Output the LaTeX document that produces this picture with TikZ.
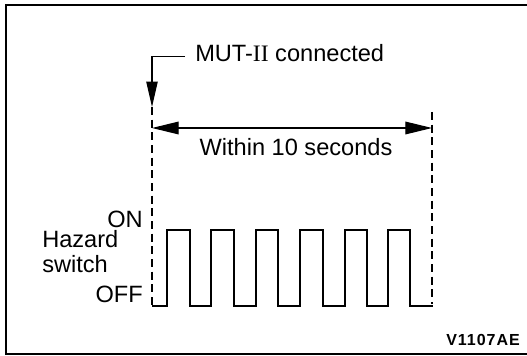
\documentclass[tikz,border=0pt]{standalone}
\usepackage{fontspec}
\setmainfont{Liberation Sans}
\newfontfamily\romfont{Liberation Serif}
\newfontfamily\codefont[LetterSpace=6]{Liberation Sans}
\usetikzlibrary{arrows.meta}
\begin{document}
\begin{tikzpicture}[x=0.75pt,y=-0.75pt,
  lbl/.style={inner sep=0pt,font=\fontsize{17.7}{19}\selectfont},
  frameline/.style={line width=1.8pt},
  guide/.style={line width=0.9pt,dash pattern=on 6pt off 3.5pt},
  leader/.style={line width=0.8pt,-{Triangle[length=19pt,width=8.5pt]}},
  span/.style={line width=0.9pt,{Triangle[length=20pt,width=9.5pt]}-{Triangle[length=20pt,width=9.5pt]}},
  wave/.style={line width=1.5pt,line join=miter}]
\useasboundingbox (0,0) rectangle (527,356);
\draw[frameline] (530,5) -- (6,5) -- (6,354) -- (530,354);
% text
\node[lbl,anchor=base west] (mut) at (195,62) {MUT-{\romfont II} connected};
\node[lbl,anchor=base] (within) at (296,155) {Within 10 seconds};
\node[lbl,anchor=base east] (on) at (143,227) {ON};
\node[lbl,anchor=base west] (hazard) at (42,247) {Hazard};
\node[lbl,anchor=base west] (switch) at (42,272) {switch};
\node[lbl,anchor=base east] (off) at (143,302) {OFF};
\node[inner sep=0pt,anchor=base east,font=\codefont\bfseries\fontsize{12}{14}\selectfont] (code) at (520,345) {V1107AE};
% reference points
\coordinate (ltop) at (152,107);
\coordinate (lbot) at (152,308);
\coordinate (rtop) at (432,112);
\coordinate (rbot) at (432,304);
\coordinate (sl) at (152,128);
\coordinate (sr) at (432,128);
% dashed guides
\draw[guide] (ltop) -- (lbot);
\draw[guide] (rtop) -- (rbot);
% leader arrow
\draw[leader] ([xshift=-7.5pt,yshift=-2.25pt]mut.west) -| (ltop);
% span arrow
\draw[span] (sl) -- (sr);
% waveform
\draw[wave] (152,306) -- (167,306) -- (167,230) -- (190,230) -- (190,306)
  -- (211,306) -- (211,230) -- (234,230) -- (234,306)
  -- (256,306) -- (256,230) -- (278,230) -- (278,306)
  -- (300,306) -- (300,230) -- (323,230) -- (323,306)
  -- (345,306) -- (345,230) -- (367,230) -- (367,306)
  -- (388,306) -- (388,230) -- (410,230) -- (410,306) -- (433,306);
\end{tikzpicture}
\end{document}
